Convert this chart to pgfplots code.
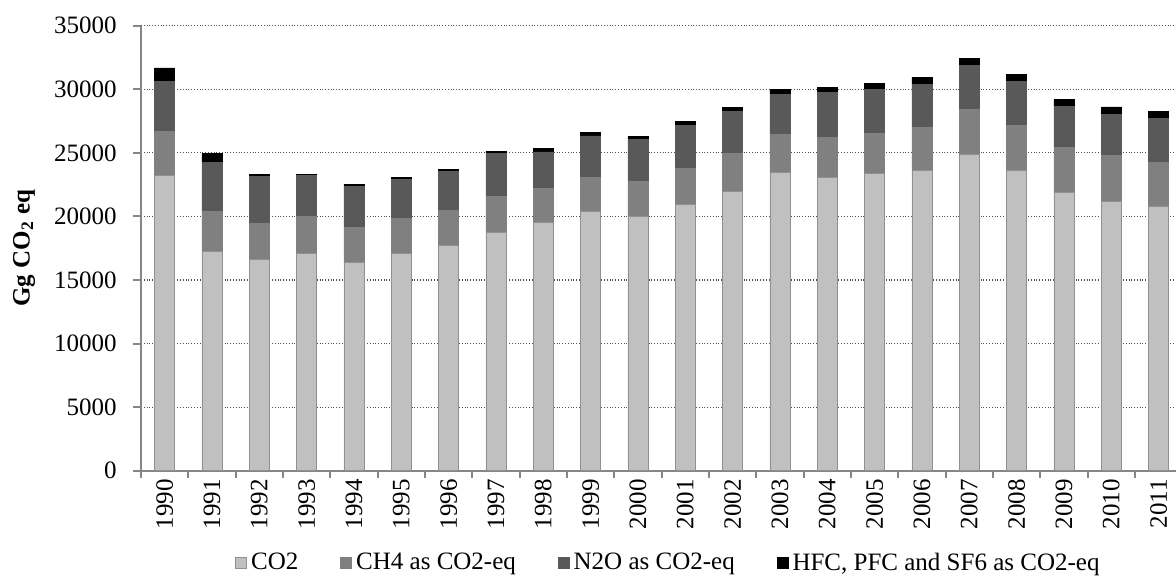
\documentclass[border=0pt]{standalone}
\usepackage{pgfplots}
\pgfplotsset{compat=1.18}
\usepackage{pgfplotstable}
\usepackage{fontspec}
\setmainfont{Liberation Serif}
\definecolor{cco}{HTML}{C0C0C0}
\definecolor{cch}{HTML}{808080}
\definecolor{cno}{HTML}{595959}
\definecolor{chf}{HTML}{000000}
\definecolor{axgray}{HTML}{868686}
\definecolor{gridc}{HTML}{505050}
\pgfplotstableread{
x CO2 CH4 N2O HFC
0 23250 3430 3930 1070
1 17270 3140 3800 730
2 16610 2860 3670 130
3 17060 2960 3170 130
4 16380 2780 3220 130
5 17110 2700 3090 160
6 17740 2730 3090 160
7 18760 2830 3350 180
8 19520 2670 2880 260
9 20410 2670 3250 240
10 19970 2750 3330 240
11 20940 2860 3330 310
12 21960 2960 3330 310
13 23430 3040 3120 390
14 23040 3170 3510 420
15 23380 3140 3460 500
16 23610 3380 3410 550
17 24900 3540 3460 550
18 23640 3540 3460 550
19 21880 3540 3220 530
20 21170 3590 3250 600
21 20780 3460 3430 600
}\datatable
\begin{document}
\begin{tikzpicture}
\useasboundingbox (0,0) rectangle (588bp,291.5bp);
\begin{axis}[
  at={(70.5bp,56.15bp)}, anchor=south west,
  scale only axis, width=517.5bp, height=222.5bp,
  ybar stacked, bar width=10bp,
  xmin=-0.5, xmax=21.368, ymin=0, ymax=35000,
  axis x line*=bottom, axis y line*=left,
  axis line style={axgray, line width=1bp, -},
  xtick={0,...,21},
  xticklabels={1990,1991,1992,1993,1994,1995,1996,1997,1998,1999,2000,2001,2002,2003,2004,2005,2006,2007,2008,2009,2010,2011},
  major x tick style={draw=none},
  minor xtick={-0.5,0.5,...,20.5},
  minor x tick style={axgray, line width=1bp},
  minor tick length=3.5bp,
  ytick={0,5000,...,35000},
  scaled y ticks=false,
  yticklabels={0,5000,10000,15000,20000,25000,30000,35000},
  major y tick style={axgray, line width=1bp},
  major tick length=4bp,
  tick align=outside,
  ymajorgrids,
  major grid style={gridc, densely dotted, line width=0.6bp},
  yticklabel style={font=\fontsize{12.5bp}{15bp}\selectfont, anchor=east, inner sep=0pt, xshift=-8bp},
  xticklabel style={font=\fontsize{12.5bp}{15bp}\selectfont, rotate=90, anchor=east, inner sep=0pt},
  ylabel={\textbf{Gg CO\textsubscript{2} eq}},
  ylabel style={at={(axis description cs:-0.113,0.5)}, anchor=center, font=\fontsize{12.5bp}{15bp}\selectfont},
  legend columns=4,
  legend style={draw=none, at={(0.5106,-0.2074)}, anchor=center,
    font=\fontsize{12.5bp}{15bp}\selectfont,
    /tikz/every even column/.append style={column sep=19bp},
    inner sep=0pt},
  legend image code/.code={\draw[#1] (0bp,-2.75bp) rectangle (5.5bp,2.75bp);},
]
\addplot[fill=cco, draw=cco!75!black, line width=0.4bp] table[x=x,y=CO2]{\datatable};
\addplot[fill=cch, draw=cch, line width=0.4bp] table[x=x,y=CH4]{\datatable};
\addplot[fill=cno, draw=cno, line width=0.4bp] table[x=x,y=N2O]{\datatable};
\addplot[fill=chf, draw=chf, line width=0.4bp] table[x=x,y=HFC]{\datatable};
\legend{CO2, CH4 as CO2-eq, N2O as CO2-eq, {HFC, PFC and SF6 as CO2-eq}}
\end{axis}
\end{tikzpicture}
\end{document}
